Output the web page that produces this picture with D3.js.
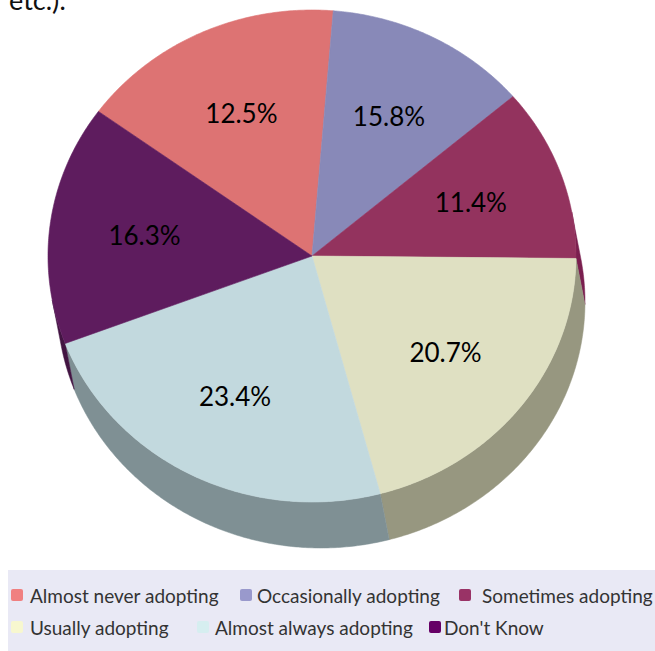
<!DOCTYPE html>
<html><head><meta charset="utf-8">
<script src="https://cdn.jsdelivr.net/npm/d3@7"></script>
<style>html,body{margin:0;padding:0;background:#fff;} svg{display:block;font-family:Lato, "Noto Sans", sans-serif;}</style>
</head><body>
<svg id="chart" width="655" height="651"></svg>
<script>
// ---- data ----
const categories = ["Almost never adopting","Occasionally adopting","Sometimes adopting","Usually adopting","Almost always adopting","Don't Know"];
// slice sizes as drawn in the picture (%)
const values = [16.3, 12.5, 11.4, 20.7, 23.4, 15.8];
// label texts printed on the slices
const labels = ["12.5%","15.8%","11.4%","20.7%","23.4%","16.3%"];

// ---- styles ----
const sliceColors  = ["#dd7373","#8889b8","#93335e","#dfe0c2","#c2d9de","#5e1c5e"];
const sideColors   = ["#9b5050","#5f6081","#7a1f4f","#979780","#7f9094","#421442"];
const legendColors = ["#f08080","#9999cc","#993366","#f7f7cf","#d6eef0","#660066"];
const legendLayout = [[11,30,595],[240,257,595],[459,482,595],[11,30,627],[197,215,627],[429,444,627]];

const cx = 312, cy = 256, rx = 264, ry = 246, depthX = 9, depthY = 46;
const svg = d3.select("#chart");

svg.append("text").attr("x", 9).attr("y", 10).attr("font-size", 27)
  .attr("fill", "#111").text("etc.):");

const deg = Math.PI / 180;
const start = -54 * deg;
const pie = d3.pie().sort(null).value(d => d).startAngle(start).endAngle(start + 2 * Math.PI);
const arcs = pie(values);

const topPt = (a, r = 1) => [cx + r * rx * Math.sin(a), cy - r * ry * Math.cos(a)];
const botPt = a => { const p = topPt(a); return [p[0] + depthX, p[1] + depthY]; };
const samples = (a0, a1) => {
  const n = Math.max(2, Math.ceil(Math.abs(a1 - a0) / (0.5 * deg)));
  return d3.range(n + 1).map(i => a0 + (a1 - a0) * i / n);
};
const line = d3.line();

// visible side range
const phi = Math.atan2(depthY * rx, depthX * ry);
const vis0 = phi, vis1 = phi + Math.PI;

const gSide = svg.append("g");
arcs.forEach((a, i) => {
  const s = Math.max(a.startAngle, vis0), e = Math.min(a.endAngle, vis1);
  if (e <= s) return;
  const pts = samples(s, e).map(t => topPt(t)).concat(samples(e, s).map(botPt));
  gSide.append("path").attr("d", line(pts) + "Z")
    .attr("fill", sideColors[i]).attr("stroke", sideColors[i]).attr("stroke-width", 0.5);
});

const gTop = svg.append("g");
arcs.forEach((a, i) => {
  const pts = [[cx, cy]].concat(samples(a.startAngle, a.endAngle).map(t => topPt(t)));
  gTop.append("path").attr("d", line(pts) + "Z")
    .attr("fill", sliceColors[i]).attr("stroke", sliceColors[i]).attr("stroke-width", 0.6);
});

const gLab = svg.append("g");
arcs.forEach((a, i) => {
  const p = topPt((a.startAngle + a.endAngle) / 2, 0.64);
  gLab.append("text").attr("x", p[0]).attr("y", p[1])
    .attr("text-anchor", "middle").attr("dominant-baseline", "central")
    .attr("font-size", 26).attr("fill", "#000").text(labels[i]);
});

// legend
const gLeg = svg.append("g");
gLeg.append("rect").attr("x", 8).attr("y", 570).attr("width", 660).attr("height", 90).attr("fill", "#e9e9f5");
categories.forEach((c, i) => {
  const [mx, tx, y] = legendLayout[i];
  gLeg.append("rect").attr("x", mx).attr("y", y - 6).attr("width", 12).attr("height", 12)
    .attr("rx", 2).attr("fill", legendColors[i]);
  gLeg.append("text").attr("x", tx).attr("y", y).attr("dominant-baseline", "central")
    .attr("font-size", 19).attr("fill", "#333").text(c);
});
</script>
</body></html>
